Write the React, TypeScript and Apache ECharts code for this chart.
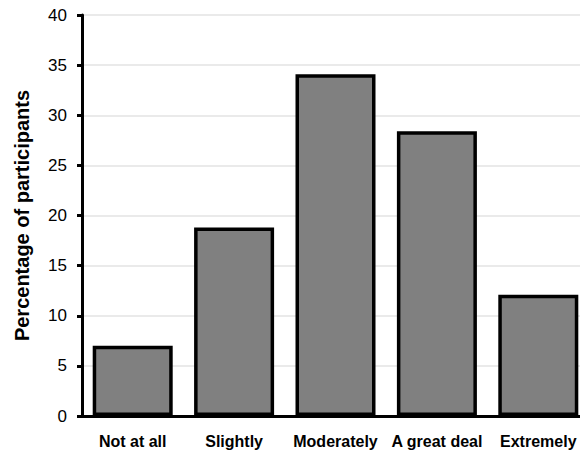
import React, { useEffect, useRef } from "react";
import * as echarts from "echarts";

const categories = ["Not at all", "Slightly", "Moderately", "A great deal", "Extremely"];
const percentages = [7.0, 18.8, 34.1, 28.4, 12.1];
const yTicks = { min: 0, max: 40, interval: 5 };
const yTitle = "Percentage of participants";

export default function App() {
  const ref = useRef<HTMLDivElement>(null);

  useEffect(() => {
    if (!ref.current) return;
    const chart = echarts.init(ref.current, null, { renderer: "svg" });
    chart.setOption({
      animation: false,
      backgroundColor: "#ffffff",
      textStyle: { fontFamily: "Liberation Sans, Arial, sans-serif" },
      grid: {
        left: 82,
        right: -9,
        top: 15,
        bottom: 37,
        containLabel: false,
        outerBoundsMode: "none",
      },
      xAxis: {
        type: "category",
        data: categories,
        axisLine: { show: true, lineStyle: { color: "#000", width: 3 } },
        axisTick: { show: false },
        axisLabel: {
          color: "#000",
          fontSize: 16,
          fontWeight: "bold",
          margin: 17,
          interval: 0,
        },
      },
      yAxis: {
        type: "value",
        min: yTicks.min,
        max: yTicks.max,
        interval: yTicks.interval,
        name: yTitle,
        nameLocation: "middle",
        nameGap: 50,
        nameTextStyle: { color: "#000", fontSize: 20, fontWeight: "bold" },
        axisLine: { show: true, lineStyle: { color: "#000", width: 3 } },
        axisTick: { show: true, length: 5, lineStyle: { color: "#000", width: 3 } },
        axisLabel: { color: "#000", fontSize: 17, margin: 15 },
        splitLine: { show: true, lineStyle: { color: "#e3e3e3", width: 1.5 } },
      },
      series: [
        {
          type: "bar",
          data: percentages,
          barWidth: 80,
          itemStyle: { color: "#808080", borderColor: "#000", borderWidth: 3.5 },
        },
      ],
    });
    return () => chart.dispose();
  }, []);

  return (
    <div
      ref={ref}
      style={{ position: "fixed", left: 0, top: 0, width: 580, height: 453 }}
    />
  );
}
